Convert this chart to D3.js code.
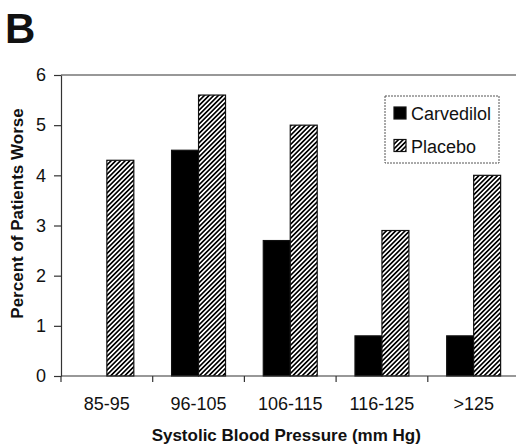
<!DOCTYPE html>
<html>
<head>
<meta charset="utf-8">
<script src="https://cdn.jsdelivr.net/npm/d3@7"></script>
<style>
    body { margin: 0; background: #fff; }
    text { font-family: 'Liberation Sans', Arial, sans-serif; fill: #111; }
</style>
</head>
<body>
<div id="graph"></div>
<script>
var categories = ['85-95', '96-105', '106-115', '116-125', '>125'];
var series = ['Carvedilol', 'Placebo'];
var carvedilol = [0, 4.5, 2.7, 0.8, 0.8];
var placebo = [4.3, 5.6, 5.0, 2.9, 4.0];
var yTicks = [0, 1, 2, 3, 4, 5, 6];

var width = 516,
    height = 447;

// plot edges (right edge runs past the picture)
var plotLeft = 61,
    plotTop = 75,
    plotBottom = 376,
    plotRight = 519.5;

var svg = d3.select('#graph')
    .append('svg')
        .attr('width', width)
        .attr('height', height);

// hatch for placebo
var hs = 3.3;
svg.append('defs')
    .append('pattern')
        .attr('id', 'hatch')
        .attr('patternUnits', 'userSpaceOnUse')
        .attr('width', hs)
        .attr('height', hs)
        .attr('patternTransform', 'rotate(45)')
    .call(function(p) {
        p.append('rect').attr('width', hs).attr('height', hs).attr('fill', '#fff');
        p.append('rect')
            .attr('x', 0).attr('y', 0)
            .attr('width', hs * 0.5).attr('height', hs)
            .attr('fill', '#000');
    });

var x = d3.scaleBand()
    .domain(categories)
    .range([plotLeft, plotRight])
    .padding(0);

var xs = d3.scaleBand()
    .domain(series)
    .range([0, x.bandwidth()])
    .paddingInner(0)
    .paddingOuter(0.7);

var y = d3.scaleLinear()
    .domain([0, 6])
    .range([plotBottom, plotTop]);

// top frame line
svg.append('line')
    .attr('x1', plotLeft).attr('x2', width)
    .attr('y1', plotTop).attr('y2', plotTop)
    .attr('stroke', '#333')
    .attr('stroke-width', 1.2);

var rows = [];
categories.forEach(function(c, i) {
    rows.push({cat: c, s: 'Carvedilol', v: carvedilol[i]});
    rows.push({cat: c, s: 'Placebo', v: placebo[i]});
});

svg.append('g')
    .selectAll('rect')
    .data(rows.filter(function(d) { return d.v > 0; }))
    .enter()
    .append('rect')
        .attr('x', function(d) { return x(d.cat) + xs(d.s); })
        .attr('y', function(d) { return y(d.v); })
        .attr('width', xs.bandwidth())
        .attr('height', function(d) { return y(0) - y(d.v); })
        .attr('fill', function(d) { return d.s == 'Placebo' ? 'url(#hatch)' : '#000'; })
        .attr('stroke', '#111')
        .attr('stroke-width', 1.2);

// y axis
var yAxis = svg.append('g')
    .attr('transform', 'translate(' + plotLeft + ',0)')
    .call(d3.axisLeft(y).tickValues(yTicks).tickFormat(d3.format('d'))
        .tickSize(7).tickPadding(8).tickSizeOuter(0));
yAxis.select('.domain').attr('stroke', '#333').attr('stroke-width', 1.2);
yAxis.selectAll('line').attr('stroke', '#333').attr('stroke-width', 1.2);
yAxis.selectAll('text')
    .style('font-size', '18px')
    .style('font-family', "'Liberation Sans', Arial, sans-serif")
    .attr('fill', '#111');

// x axis, ticks on the category boundaries
var xAxis = svg.append('g')
    .attr('transform', 'translate(0,' + plotBottom + ')');
xAxis.append('line')
    .attr('x1', plotLeft).attr('x2', width)
    .attr('stroke', '#333')
    .attr('stroke-width', 1.2);
xAxis.selectAll('.tk')
    .data(categories)
    .enter()
    .append('line')
        .attr('class', 'tk')
        .attr('x1', function(d) { return x(d); })
        .attr('x2', function(d) { return x(d); })
        .attr('y1', 0).attr('y2', 6)
        .attr('stroke', '#333')
        .attr('stroke-width', 1.2);
xAxis.selectAll('.lbl')
    .data(categories)
    .enter()
    .append('text')
        .attr('class', 'lbl')
        .attr('x', function(d) { return x(d) + x.bandwidth() / 2; })
        .attr('y', 34)
        .attr('text-anchor', 'middle')
        .style('font-size', '18px')
        .text(function(d) { return d; });

// titles
svg.append('text')
    .attr('x', (plotLeft + plotRight) / 2 - 4)
    .attr('y', 441)
    .attr('text-anchor', 'middle')
    .style('font-size', '17px')
    .style('font-weight', 'bold')
    .text('Systolic Blood Pressure (mm Hg)');

svg.append('text')
    .attr('transform', 'translate(23,' + ((plotTop + plotBottom) / 2 - 12) + ') rotate(-90)')
    .attr('text-anchor', 'middle')
    .style('font-size', '17px')
    .style('font-weight', 'bold')
    .text('Percent of Patients Worse');

svg.append('text')
    .attr('x', 5)
    .attr('y', 43)
    .style('font-size', '42px')
    .style('font-weight', 'bold')
    .text('B');

// legend
var legend = svg.append('g')
    .attr('transform', 'translate(385,96)');
legend.append('rect')
    .attr('width', 114)
    .attr('height', 67)
    .attr('fill', '#fff')
    .attr('stroke', '#555')
    .attr('stroke-width', 1)
    .attr('stroke-dasharray', '2,1');
series.forEach(function(s, i) {
    legend.append('rect')
        .attr('x', 9)
        .attr('y', 11 + i * 32.5)
        .attr('width', 12)
        .attr('height', 12)
        .attr('fill', s == 'Placebo' ? 'url(#hatch)' : '#000')
        .attr('stroke', '#111')
        .attr('stroke-width', 1.2);
    legend.append('text')
        .attr('x', 26)
        .attr('y', 24 + i * 32.5)
        .style('font-size', '18px')
        .text(s);
});
</script>
</body>
</html>
